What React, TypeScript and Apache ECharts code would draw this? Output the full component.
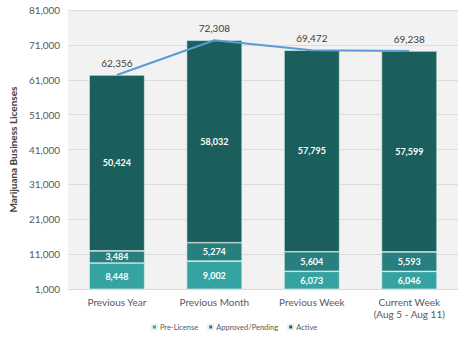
import React, { useEffect, useRef } from "react";
import * as echarts from "echarts";

const categories = ["Previous Year", "Previous Month", "Previous Week", "Current Week\n(Aug 5 - Aug 11)"];
const preLicense = [8448, 9002, 6073, 6046];
const approvedPending = [3484, 5274, 5604, 5593];
const active = [50424, 58032, 57795, 57599];
const totals = [62356, 72308, 69472, 69238];

const fmt = (v: number) => v.toLocaleString("en-US");
const FONT = "Lato";

export default function App() {
  const ref = useRef<HTMLDivElement>(null);
  useEffect(() => {
    const chart = echarts.init(ref.current!, null, { renderer: "svg" });
    const barLabel = {
      show: true,
      color: "#ffffff",
      fontSize: 9,
      fontWeight: "bold" as const,
      fontFamily: FONT,
      formatter: (p: any) => fmt(p.value),
    };
    chart.setOption({
      animation: false,
      backgroundColor: "#ffffff",
      textStyle: { fontFamily: FONT },
      grid: {
        left: 63,
        right: 10,
        top: 10,
        bottom: 54,
        show: true,
        backgroundColor: "#f2f2f2",
        borderWidth: 0,
      },
      legend: {
        bottom: 7,
        left: "center",
        itemWidth: 5,
        itemHeight: 5,
        itemGap: 9,
        icon: "rect",
        textStyle: { fontSize: 7.5, color: "#595959", fontFamily: FONT, padding: [0, 0, 0, -2] },
        data: ["Pre-License", "Approved/Pending", "Active"],
      },
      xAxis: {
        type: "category",
        data: categories,
        axisLine: { lineStyle: { color: "#d9d9d9" } },
        axisTick: { show: false },
        axisLabel: { color: "#595959", fontSize: 10, fontFamily: FONT, margin: 7, lineHeight: 12 },
      },
      yAxis: {
        type: "value",
        min: 1000,
        max: 81000,
        interval: 10000,
        name: "Marijuana Business Licenses",
        nameLocation: "middle",
        nameGap: 38,
        nameTextStyle: { fontSize: 10, fontWeight: "bold", color: "#404040", fontFamily: FONT },
        axisLine: { show: false },
        axisTick: { show: false },
        splitLine: { lineStyle: { color: "#dcdcdc", width: 1 } },
        axisLabel: { color: "#595959", fontSize: 10, fontFamily: FONT, formatter: (v: number) => fmt(v) },
      },
      series: [
        {
          name: "Pre-License",
          type: "bar",
          stack: "total",
          barWidth: "57%",
          data: preLicense,
          itemStyle: { color: "#35a3a2", borderColor: "#e8f2f2", borderWidth: 0.6 },
          label: barLabel,
        },
        {
          name: "Approved/Pending",
          type: "bar",
          stack: "total",
          data: approvedPending,
          itemStyle: { color: "#27807f", borderColor: "#e8f2f2", borderWidth: 0.6 },
          label: barLabel,
        },
        {
          name: "Active",
          type: "bar",
          stack: "total",
          data: active,
          itemStyle: { color: "#1b5f5c", borderColor: "#e8f2f2", borderWidth: 0.6 },
          label: barLabel,
        },
        {
          name: "Total",
          type: "line",
          data: totals,
          showSymbol: true,
          symbol: "circle",
          symbolSize: 0.1,
          itemStyle: { color: "#5b9bd5" },
          lineStyle: { color: "#5b9bd5", width: 2 },
          label: {
            show: true,
            position: "top",
            distance: 7,
            color: "#404040",
            fontSize: 10,
            fontFamily: FONT,
            formatter: (p: any) => fmt(p.value),
          },
          z: 5,
        },
      ],
    });
    return () => chart.dispose();
  }, []);
  return <div ref={ref} style={{ position: "fixed", left: 0, top: 0, width: 468, height: 343 }} />;
}
